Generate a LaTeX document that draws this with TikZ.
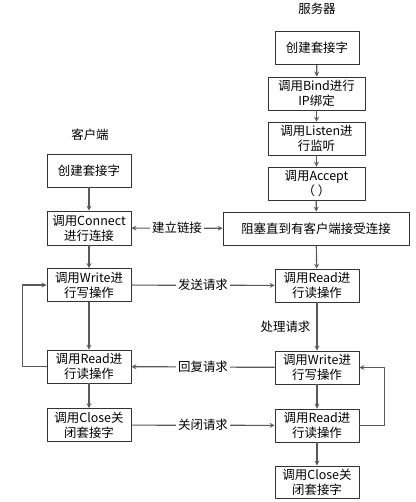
\documentclass[tikz,border=0pt]{standalone}
\usepackage{fontspec}
\setmainfont{Noto Sans CJK SC}
\begin{document}
\begin{tikzpicture}[x=1bp,y=-1bp,font=\fontsize{12.5}{15}\selectfont, line join=round, >=stealth,
		box/.style={draw=black!80,line width=0.8pt,align=center,inner sep=0pt,minimum width=84bp,minimum height=33bp},
		widebox/.style={box,minimum width=97bp},
		conn/.style={->,draw=black!65,line width=1.2pt},
		lbl/.style={fill=white,inner sep=2pt}]
				\useasboundingbox (0,0) rectangle (415,502);
				% server
				\node (server) at (317,9) {服务器};
				\node[box] (s1) at (317,48) {创建套接字};
				\node[widebox] (s2) at (316.5,93.5) {调用Bind进行\\IP绑定};
				\node[widebox] (s3) at (316.5,138.5) {调用Listen进\\行监听};
				\node[widebox] (s4) at (316.5,183.5) {调用Accept\\（ ）};
				\node[box,minimum width=186bp] (s5) at (316,228.5) {阻塞直到有客户端接受连接};
				\node[box] (s6) at (317,285.5) {调用Read进\\行读操作};
				\node[box] (s7) at (317,367.5) {调用Write进\\行写操作};
				\node[box] (s8) at (317,425.5) {调用Read进\\行读操作};
				\node[box,minimum height=32bp] (s9) at (317,482) {调用Close关\\闭套接字};
				% client
				\node (client) at (90,135) {客户端};
				\node[box] (c1) at (89,170.5) {创建套接字};
				\node[box,minimum height=34bp] (c2) at (89,228) {调用Connect\\进行连接};
				\node[box] (c3) at (89,285) {调用Write进\\行写操作};
				\node[box] (c4) at (89,366.5) {调用Read进\\行读操作};
				\node[box] (c5) at (89,425) {调用Close关\\闭套接字};
				\foreach \a/\b in {s1/s2,s2/s3,s3/s4,s4/s5,s5/s6,s7/s8,s8/s9,c1/c2,c2/c3,c3/c4,c4/c5}{
					\draw[conn] (\a) -- (\b);}
				\draw[conn] (s6) -- node[left,inner sep=6pt]{处理请求} (s7);
				\draw[conn,<->] (c2) -- node[lbl]{建立链接} (s5);
				\draw[conn] (c3) -- node[lbl]{发送请求} (s6);
				\draw[conn] (s7) -- node[lbl]{回复请求} (c4);
				\draw[conn] (c5) -- node[lbl]{关闭请求} (s8);
				\draw[conn] (c4.west) -- ++(-24,0) |- (c3.west);
				\draw[conn] (s8.east) -- ++(25,0) |- (s7.east);
			\end{tikzpicture}
\end{document}
